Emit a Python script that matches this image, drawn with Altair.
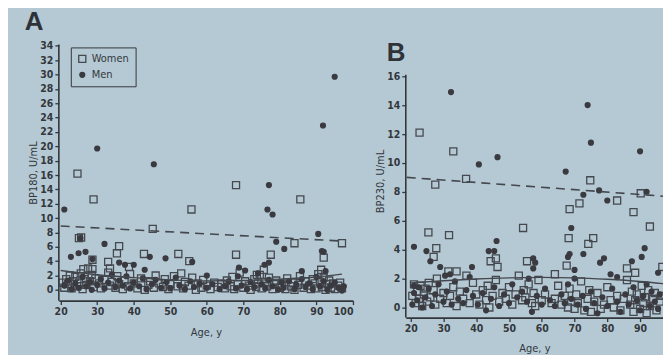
import altair as alt
import pandas as pd

# ---------------- Panel A : BP180 ----------------
a_women_age = [20.5, 21, 21.5, 22, 22.5, 23, 23.5, 24, 24.5, 25, 25.5, 26, 26.5, 27, 27.5, 28, 28.5, 29,
               29.5, 30.5, 31, 32, 33, 33.5, 34, 35, 35.5, 36, 37, 37.5, 38.5, 39, 40, 41, 42, 43, 44,
               44.5, 45.5, 46, 47, 48, 48.5, 49.5, 50, 51, 52, 53, 53.5, 54, 55, 56, 57, 57.5, 58.5, 59,
               60, 61, 62, 63, 64, 65, 65.5, 66.5, 67, 67.5, 68.5, 69, 70, 70.5, 71.5, 72, 73, 73.5, 74,
               74.5, 75, 76, 76.5, 77, 78, 78.5, 79, 80, 80.5, 81.5, 82, 83, 83.5, 84, 85, 85.5, 86.5, 87,
               88, 88.5, 89, 89.5, 90, 90.5, 91, 91.5, 92, 92.5, 93, 93.5, 94, 94.5, 95, 96, 96.5, 97,
               24.6, 29, 55.8, 68, 85.6, 25, 25.6, 36, 35.4, 33, 28.7, 26.2, 28.7, 45.2, 42.8, 52.2, 55.2,
               68, 77.5, 75.6, 73.7, 84, 92, 91.3, 97, 38.7, 33.5]
a_women_val = [1.0, 0.3, 1.5, 0.8, 2.0, 0.2, 1.2, 1.8, 0.5, 1.0, 2.3, 0.1, 1.5, 0.7, 3.0, 1.2, 2.1, 0.4,
               1.6, 0.9, 0.2, 1.4, 2.4, 0.6, 1.1, 0.3, 1.9, 0.8, 0.1, 1.3, 0.5, 2.2, 0.9, 0.2, 1.6, 0.0, 0.7,
               1.2, 0.3, 2.0, 0.9, 0.4, 1.5, 0.1, 0.8, 1.9, 0.5, 2.3, 0.2, 1.1, 0.6, 1.7, 0.0, 0.9, 0.3, 1.4,
               0.6, 0.1, 1.0, 0.4, 0.9, 0.2, 1.3, 0.5, 1.8, 0.1, 0.8, 2.4, 0.3, 1.2, 0.6, 0.0, 1.5, 0.4, 0.9,
               2.1, 0.2, 1.1, 0.5, 1.7, 0.1, 0.8, 1.3, 0.3, 0.9, 0.1, 1.6, 0.5, 1.0, 0.0, 0.7, 1.9, 0.3, 1.2,
               0.6, 0.1, 1.5, 0.9, 0.2, 2.2, 1.1, 0.4, 1.7, 0.0, 0.8, 1.3, 0.3, 0.9, 0.1, 0.6, 1.0, 0.2,
               16.2, 12.6, 11.2, 14.6, 12.6, 7.2, 7.3, 6.1, 5.1, 3.9, 4.2, 2.9, 2.9, 8.5, 5.0, 5.0, 4.0,
               4.9, 4.9, 2.8, 2.1, 6.5, 4.5, 2.8, 6.5, 3.2, 3.0]
a_men_age = [21, 22, 23, 24, 25, 26, 27, 28, 28.5, 30, 31, 32, 33, 34, 35, 36, 37, 38, 39, 40, 41.5, 42.5,
             43.5, 45, 46, 47.5, 49, 50, 51.5, 52.5, 54, 55.5, 56.5, 58, 60, 61.5, 63.5, 65, 66, 68, 68.5,
             69.5, 71, 72, 73, 74, 75, 76, 77, 78, 79.5, 80.5, 81, 82.5, 84, 84.5, 86, 87, 88, 89, 90, 91,
             92, 93, 94, 95, 96, 97, 97.5,
             21, 30, 45.5, 77, 76.6, 78, 91.8, 95, 25.4, 22.8, 24.9, 26.8, 32, 28.7, 44.4, 43, 48.7, 56,
             68.8, 77, 75.8, 79, 81.2, 86, 90.5, 92, 91.5, 92.5, 40, 37.6, 36, 70.5, 60]
a_men_val = [0.6, 1.3, 0.1, 0.9, 0.3, 1.8, 0.5, 1.1, 0.0, 0.7, 1.5, 0.2, 1.0, 2.1, 0.4, 1.3, 0.6, 1.9, 0.2,
             1.0, 0.5, 1.6, 0.1, 0.8, 1.4, 0.3, 1.1, 0.2, 1.7, 0.6, 0.1, 1.2, 0.4, 0.9, 0.3, 0.8, 0.1, 0.5,
             1.2, 0.2, 1.9, 0.6, 0.1, 1.1, 0.4, 2.3, 0.8, 0.2, 1.4, 0.5, 0.0, 1.0, 0.3, 1.2, 0.1, 0.7, 1.5,
             0.4, 0.9, 0.1, 1.8, 0.5, 1.2, 0.0, 0.6, 1.0, 0.3, -0.1, 0.5,
             11.2, 19.7, 17.5, 14.6, 11.2, 10.5, 22.9, 29.7, 7.2, 4.6, 5.1, 5.3, 6.4, 4.3, 4.6, 2.8, 4.4,
             3.9, 3.1, 3.8, 3.5, 6.7, 5.7, 2.6, 7.8, 5.3, 5.4, 2.6, 3.5, 3.5, 3.8, 2.7, 2.0]
a_cut_age = [20, 97]
a_cut_val = [8.9, 6.8]
a_fit_age = [20, 30, 40, 50, 60, 70, 80, 90, 97]
a_fit_val = [2.7, 2.1, 1.7, 1.4, 1.25, 1.3, 1.5, 1.8, 2.2]

# ---------------- Panel B : BP230 ----------------
b_women_age = [20.5, 21, 21.5, 22, 22.5, 23, 23.5, 24, 24.5, 25, 25.5, 26, 27, 27.5, 28, 29, 30, 31, 32, 33,
               34, 35, 36, 37, 38, 39, 40, 41, 42, 43, 43.5, 44, 45, 46, 47, 48, 49, 50, 51, 52, 53, 54,
               54.5, 55, 56, 57, 57.5, 58, 59, 60, 61, 63, 64, 65, 66, 67, 68, 68.5, 69, 70, 70.5, 71, 72,
               73, 74, 74.5, 75, 76, 77, 78, 79, 80, 81, 82, 83, 84, 85, 86, 87, 87.5, 88, 88.5, 89, 90,
               90.5, 91, 91.5, 92, 92.5, 93, 94, 94.5, 95, 96, 96.5,
               22.7, 33, 36.9, 74.8, 27.5, 68.5, 71.5, 83, 88, 90.2, 93, 25.4, 31.7, 54.3, 27.8, 27, 34,
               44.4, 46, 46.5, 55.5, 68.2, 67.6, 74.2, 75.7, 86, 96.8, 31.5, 64, 88.5]
b_women_val = [0.8, 1.6, 0.3, 1.1, 0.6, 1.5, 0.1, 0.9, 1.3, 0.4, 1.7, 0.7, 1.2, 0.2, 2.0, 0.6, 1.0, 0.3, 0.8,
               1.4, 0.1, 1.1, 0.6, 2.2, 0.3, 1.7, 0.9, 0.2, 1.2, 0.5, 1.5, 0.0, 0.8, 1.9, 0.4, 1.0, 0.6, 1.4,
               0.2, 0.9, 2.2, 0.5, 1.2, 0.7, 1.6, 0.3, 1.0, 0.1, 1.9, 0.5, 0.9, 0.3, 0.6, 1.5, 0.2, 0.8, 0.0,
               1.3, 0.4, -0.1, 0.9, 0.3, 1.8, -0.2, 0.6, 1.2, -0.3, 0.4, 1.0, -0.1, 0.2, 1.4, 0.5, 0.0, 0.8,
               -0.2, 0.6, 1.9, 0.2, 1.1, -0.3, 0.5, 0.9, -0.1, 1.5, 0.3, 0.7, -0.4, 1.2, 0.1, 0.6, 1.0,
               -0.2, 0.4, 0.8,
               12.1, 10.8, 8.9, 8.8, 8.5, 6.8, 7.2, 7.4, 6.6, 7.9, 5.6, 5.2, 5.0, 5.5, 4.1, 3.5, 2.5,
               3.2, 3.4, 2.8, 3.2, 4.8, 2.9, 4.4, 4.8, 2.7, 2.8, 2.5, 2.3, 2.4]
b_men_age = [20.5, 21, 22, 22.5, 23.5, 24.5, 25.5, 26.5, 27.5, 28.5, 30, 31, 32.5, 33.5, 34.5, 36, 37, 38,
             39, 40.5, 42, 43, 44.5, 45.5, 47, 48.5, 50, 51, 52.5, 54, 55.5, 56, 57, 58.5, 60, 61, 62.5,
             64, 66, 67, 68, 69, 70, 71, 72.5, 73.5, 75, 76, 77, 78.5, 80, 81.5, 83, 84, 85.5, 86.5, 88,
             89, 90, 91, 92, 93, 93.5, 94.5, 95.5, 96,
             32.3, 46.5, 74, 75, 90, 40.8, 67.3, 72.7, 77.5, 80, 92, 21, 24.8, 26, 29, 38.7, 32, 43.8,
             45.5, 46.2, 57.4, 57.4, 58, 69, 68.5, 68, 70, 72.7, 77.8, 79, 81, 87.5, 90.5, 91.4, 95.5,
             83, 30.5, 21]
b_men_val = [0.2, 1.0, 0.5, 1.4, 0.0, 0.7, 1.3, 0.1, 0.9, 1.6, 0.4, 1.1, 0.2, 1.8, 0.6, 0.3, 1.2, 2.1, 0.8,
             0.2, 1.0, -0.2, 0.6, 1.4, 0.1, 0.9, 0.3, 1.6, 0.7, 1.1, 0.4, 2.0, -0.3, 0.8, 0.2, 1.3, 0.5,
             0.1, 0.9, 0.3, 1.6, 0.6, 2.0, 0.2, 0.8, -0.1, 1.1, 0.3, -0.4, 0.7, 0.1, 1.3, 0.4, -0.3, 0.9,
             0.2, 1.4, 0.5, -0.2, 0.8, 1.6, 0.1, 1.1, 0.4, -0.1, 0.9,
             14.9, 10.4, 14.0, 11.4, 10.8, 9.9, 9.4, 7.8, 8.1, 7.4, 8.0, 4.2, 3.9, 3.2, 2.8, 2.8, 2.3,
             3.9, 3.9, 4.6, 3.4, 2.7, 3.1, 5.5, 3.7, 3.5, 2.6, 3.7, 3.1, 3.4, 2.3, 3.2, 3.5, 4.1, 2.4,
             2.1, 2.2, 1.5]
b_cut_age = [18.8, 97]
b_cut_val = [9.0, 7.7]
b_fit_age = [20, 30, 40, 50, 60, 70, 80, 90, 97]
b_fit_val = [1.7, 1.85, 1.97, 2.05, 2.08, 2.05, 1.95, 1.8, 1.65]

SEXES = ["Women", "Men"]
BG = "#b5c9d4"
INK = "#33373c"
FONT = "Liberation Sans Narrow, DejaVu Sans Condensed, Liberation Sans, sans-serif"


def points_df(wa, wv, ma, mv):
    d1 = pd.DataFrame({"age": wa, "val": wv, "sex": "Women"})
    d2 = pd.DataFrame({"age": ma, "val": mv, "sex": "Men"})
    return pd.concat([d1, d2], ignore_index=True)


def panel(df, cut_age, cut_val, fit_age, fit_val, xdom, xticks, ydom, yticks, ytop, ytitle,
          width, height, legend, letter=None):
    xs = alt.Scale(domain=xdom, nice=False, zero=False)
    ys = alt.Scale(domain=ydom, nice=False, zero=False)
    xa = alt.Axis(values=xticks, title="Age, y", titlePadding=9, labelOverlap=False)
    ya = alt.Axis(values=yticks, title=ytitle, titlePadding=1, labelOverlap=False, domain=False)
    x = alt.X("age:Q", scale=xs, axis=xa)
    y = alt.Y("val:Q", scale=ys, axis=ya)
    leg = (alt.Legend(title=None, orient="none", legendX=12, legendY=3, strokeColor=INK,
                      padding=6, labelFont=FONT, labelFontSize=11, labelColor=INK,
                      rowPadding=3, symbolStrokeWidth=1.3)
           if legend else None)
    pts = alt.Chart(df).mark_point(filled=True, opacity=1, strokeWidth=1.3, clip=True).encode(
        x=x, y=y,
        shape=alt.Shape("sex:N", scale=alt.Scale(domain=SEXES, range=["square", "circle"]), legend=leg),
        fill=alt.Fill("sex:N", scale=alt.Scale(domain=SEXES, range=["transparent", "#3a3a40"]), legend=leg),
        stroke=alt.Stroke("sex:N", scale=alt.Scale(domain=SEXES, range=["#45494f", "#3a3a40"]), legend=leg),
        size=alt.Size("sex:N", scale=alt.Scale(domain=SEXES, range=[50, 24]), legend=leg),
    )
    cut = alt.Chart(pd.DataFrame({"age": cut_age, "val": cut_val})).mark_line(
        color="#44484e", strokeWidth=1.6, strokeDash=[9, 6], clip=True).encode(x=x, y=y)
    fit = alt.Chart(pd.DataFrame({"age": fit_age, "val": fit_val})).mark_line(
        color="#44484e", strokeWidth=1.4, interpolate="monotone", clip=True).encode(x=x, y=y)
    axis_line = alt.Chart(pd.DataFrame({"val": [ytop], "lo": [ydom[0]]})).mark_rule(
        color=INK, strokeWidth=1.6).encode(x=alt.value(0), y=y, y2="lo:Q")
    layers = [pts, cut, fit, axis_line]
    if letter is not None:
        lt = alt.Chart(pd.DataFrame({"t": [letter]})).mark_text(
            font="Liberation Sans", fontSize=26, fontWeight="bold", color="#2f3338",
            align="left", baseline="top").encode(x=alt.value(-19), y=alt.value(-4), text="t:N")
        layers.append(lt)
    return alt.layer(*layers).properties(width=width, height=height)


dfa = points_df(a_women_age, a_women_val, a_men_age, a_men_val)
dfb = points_df(b_women_age, b_women_val, b_men_age, b_men_val)

title_a = alt.TitleParams("A", anchor="start", frame="bounds", fontSize=26, font="Liberation Sans",
                          fontWeight="bold", color="#2f3338", offset=6, dx=-3)

pa = panel(dfa, a_cut_age, a_cut_val, a_fit_age, a_fit_val, [19.5, 100], list(range(20, 101, 10)),
           [-1.5, 34.2], list(range(0, 35, 2)), 34.2, "BP180, U/mL", 295, 257, True).properties(title=title_a)
pb = panel(dfb, b_cut_age, b_cut_val, b_fit_age, b_fit_val, [18.5, 97], list(range(20, 91, 10)),
           [-0.7, 18.2], list(range(0, 17, 2)), 16.1, "BP230, U/mL", 258, 274, False, letter="B")

chart = alt.hconcat(pa, pb, spacing=20).properties(
    background=BG, padding={"left": 16, "top": 0, "right": 0, "bottom": 0}
).configure_view(
    stroke=None
).configure_axis(
    grid=False, domainColor=INK, domainWidth=1.6, tickColor=INK, tickWidth=1.3, tickSize=4,
    labelColor=INK, labelFont=FONT, labelFontSize=10.5, labelFontWeight="bold",
    titleColor=INK, titleFont=FONT, titleFontSize=11, titleFontWeight="normal"
)

chart.save("out.html", embed_options={"renderer": "svg", "actions": False})
